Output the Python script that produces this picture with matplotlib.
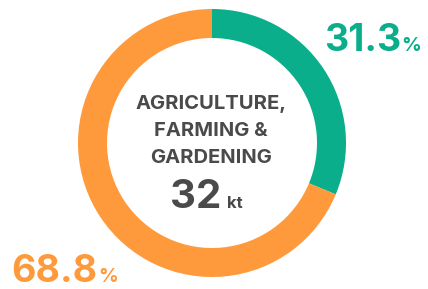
import matplotlib.pyplot as plt

# data
shares = [31.3, 68.8]
colors = ['#0AAE8A', '#FF9A3C']
title_lines = ['AGRICULTURE,', 'FARMING &', 'GARDENING']
total_value = 32
total_unit = 'kt'

plt.rcParams['font.family'] = ['Inter', 'DejaVu Sans']

fig = plt.figure(figsize=(4.28, 2.89), dpi=100)
ax = fig.add_axes([0, 0, 1, 1])

ax.pie(shares, colors=colors, center=(212, 146), radius=134,
       startangle=90, counterclock=False,
       wedgeprops=dict(width=29, linewidth=0), frame=True)
ax.set_xlim(0, 428)
ax.set_ylim(0, 289)
ax.set_aspect('equal')
ax.axis('off')

dark = '#4a4a4a'
# percentage labels
ax.text(401, 238, f'{shares[0]:.1f}', color=colors[0], fontsize=27,
        fontweight='bold', ha='right', va='baseline')
ax.text(401, 238, '%', color=colors[0], fontsize=14,
        fontweight='bold', ha='left', va='baseline')
ax.text(97, 7, f'{shares[1]:.1f}', color=colors[1], fontsize=27,
        fontweight='bold', ha='right', va='baseline')
ax.text(98, 7, '%', color=colors[1], fontsize=14,
        fontweight='bold', ha='left', va='baseline')

# centre label
for i, line in enumerate(title_lines):
    ax.text(211, 185 - i * 27, line, color=dark, fontsize=14.5,
            fontweight='bold', ha='center', va='center')
ax.text(221, 81, str(total_value), color=dark, fontsize=29,
        fontweight='bold', ha='right', va='baseline')
ax.text(227, 81, total_unit, color=dark, fontsize=12,
        fontweight='bold', ha='left', va='baseline')

fig.savefig('out.png', dpi=100, facecolor='white')
